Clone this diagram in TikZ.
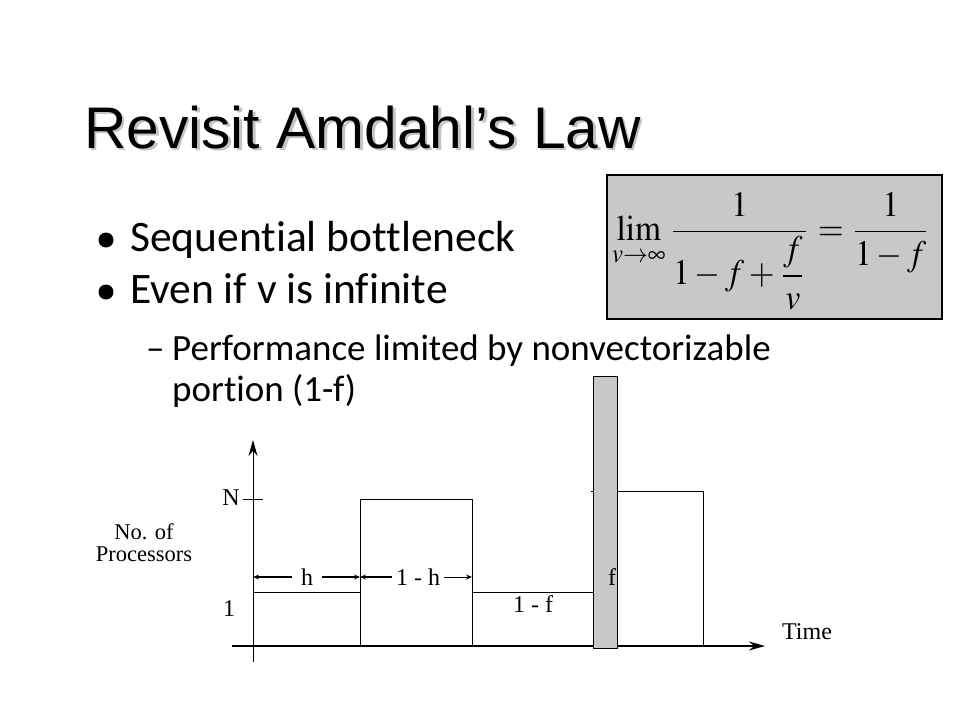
\documentclass[tikz,border=0pt]{standalone}
\usepackage{mathptmx}
\usepackage{fontspec}
\setmainfont{Liberation Serif}
\newfontfamily\titlefont{Liberation Sans}
\newfontfamily\slidefont[Ligatures=NoCommon]{Carlito}
\usetikzlibrary{arrows.meta,positioning}
\definecolor{BoxGray}{HTML}{C8C8C8}
\definecolor{ShadowGray}{HTML}{C4C4C4}
\tikzset{
  bullettext/.style={anchor=base west,inner sep=0pt,font=\slidefont\fontsize{43.5}{50}\selectfont},
  subtext/.style={anchor=base west,inner sep=0pt,font=\slidefont\fontsize{37}{44}\selectfont},
  plotlabel/.style={inner sep=0pt,font=\fontsize{24}{20}\selectfont},
  thinline/.style={line width=1pt},
  axisline/.style={line width=2pt,-{Stealth[length=16pt,width=9pt]}},
  dimarrow/.style={line width=1.8pt,-{Stealth[length=6pt,width=5pt]}}
}
\begin{document}
\begin{tikzpicture}[x=1pt,y=-1pt]
  \useasboundingbox (0,0) rectangle (960,720);
  % title with shadow
  \node[anchor=base west,inner sep=0pt,text=ShadowGray,font=\titlefont\fontsize{58.7}{70}\selectfont] (titleshadow) at (86.5,150.5) {Revisit Amdahl’s Law};
  \node[anchor=base west,inner sep=0pt,font=\titlefont\fontsize{58.7}{70}\selectfont] (title) at (84,148) {Revisit Amdahl’s Law};
  % bullets
  \fill (106,240) circle (7.5);
  \node[bullettext] (seqline) at (130,251) {Sequential bottleneck};
  \fill (106,292) circle (7.5);
  \node[bullettext] (evenline) at (130,303) {Even if v is infinite};
  \node[subtext] (dash) at (146,360) {–};
  \node[subtext] (perfline) at (172,360) {Performance limited by nonvectorizable};
  \node[subtext] (portline) at (172,401) {portion (1-f)};
  % formula box
  \draw[fill=BoxGray,line width=1.5pt] (607,175) rectangle (942,319);
  \node[anchor=north west,inner sep=0pt] (formula) at (612,192)
    {\resizebox*{318pt}{118pt}{$\displaystyle\lim_{v\to\infty}\frac{1}{1-f+\displaystyle\frac{f}{v}}=\frac{1}{1-f}$}};
  % axes
  \coordinate (origin) at (253,646);
  \coordinate (ytop) at (253,440);
  \coordinate (ybot) at (253,662);
  \coordinate (xleft) at (232,646);
  \coordinate (xright) at (765,646);
  \draw[thinline,-{Stealth[length=16pt,width=9pt]}] (ybot) -- (ytop);
  \draw[axisline] (xleft) -- (xright);
  \draw[thinline] (243,499) -- (263,499);
  % processor profile
  \coordinate (hend) at (360,577);
  \coordinate (vend) at (472,577);
  \coordinate (hstart) at (253,577);
  \draw[thinline] (253,592) -- (360,592);
  \draw[thinline] (360,646) -- (360,499) -- (472,499) -- (472,646);
  \draw[thinline] (472,592) -- (593,592);
  \draw[thinline] (591,491) -- (593,491);
  \draw[thinline] (617,491) -- (703,491) -- (703,646);
  \draw[thinline,fill=BoxGray] (593,376) rectangle (617,648);
  % labels
  \node[plotlabel] (nlabel) at (231,498) {N};
  \node[plotlabel] (onelabel) at (229,609) {1};
  \node[plotlabel,align=center,font=\fontsize{22.5}{22}\selectfont] (proclabel) at (144,543) {No. of\\Processors};
  \node[plotlabel,inner sep=9pt] (hlabel) at (307,577) {h};
  \node[plotlabel,inner xsep=4pt] (onehlabel) at (418,577) {1 - h};
  \node[plotlabel] (flabel) at (612,577) {f};
  \node[plotlabel] (onefflabel) at (533,604) {1 - f};
  \node[plotlabel] (timelabel) at (807,632) {Time};
  \draw[dimarrow] (hlabel) -- (hstart);
  \draw[dimarrow] (hlabel) -- (hend);
  \draw[dimarrow] (onehlabel) -- (hend);
  \draw[thinline,-{Stealth[length=6pt,width=5pt]}] (onehlabel.east) -- (vend);
\end{tikzpicture}
\end{document}
